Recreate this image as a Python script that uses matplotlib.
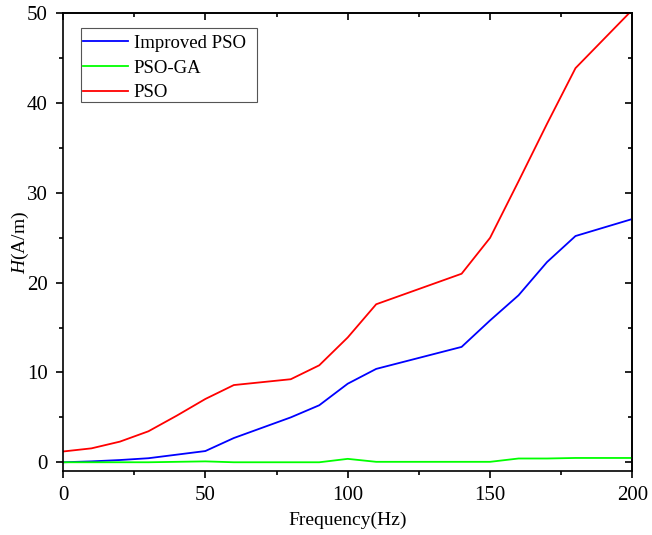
import matplotlib
matplotlib.use("Agg")
import matplotlib.pyplot as plt
from matplotlib.ticker import MultipleLocator
from matplotlib.patches import Rectangle

plt.rcParams['font.family'] = ['Liberation Serif', 'DejaVu Serif']
plt.rcParams['mathtext.fontset'] = 'custom'
plt.rcParams['mathtext.rm'] = 'Liberation Serif'
plt.rcParams['mathtext.it'] = 'Liberation Serif:italic'

freq_red = [0, 10, 20, 30, 40, 50, 60, 80, 90, 100, 110, 140, 150, 160, 170, 180, 200]
pso = [1.2, 1.55, 2.3, 3.45, 5.2, 7.05, 8.6, 9.25, 10.8, 13.9, 17.6, 21.0, 25.0, 31.3, 37.7, 43.9, 50.4]

freq_blue = [0, 10, 20, 30, 50, 60, 80, 90, 100, 110, 140, 150, 160, 170, 180, 200]
improved = [0.0, 0.1, 0.25, 0.45, 1.25, 2.7, 5.0, 6.35, 8.75, 10.4, 12.85, 15.8, 18.6, 22.3, 25.2, 27.1]

freq_green = [0, 10, 20, 30, 40, 50, 60, 70, 80, 90, 100, 110, 120, 130, 140, 150, 160, 170, 180, 190, 200]
psoga = [0.0, 0.0, 0.0, 0.0, 0.05, 0.1, 0.0, 0.0, 0.0, 0.0, 0.38, 0.05, 0.05, 0.05, 0.05, 0.05, 0.42, 0.42, 0.48, 0.48, 0.48]

fig = plt.figure(figsize=(6.52, 5.35), dpi=100)
ax = fig.add_axes([0.0966, 0.120, 0.8734, 0.855])

ax.plot(freq_blue, improved, color='#0000ff', lw=1.3, label='Improved PSO')
ax.plot(freq_green, psoga, color='#00ff00', lw=1.3, label='PSO-GA')
ax.plot(freq_red, pso, color='#ff0000', lw=1.3, label='PSO')

ax.set_xlim(0, 200)
ax.set_ylim(-0.95, 50)
ax.xaxis.set_major_locator(MultipleLocator(50))
ax.xaxis.set_minor_locator(MultipleLocator(25))
ax.yaxis.set_major_locator(MultipleLocator(10))
ax.yaxis.set_minor_locator(MultipleLocator(5))
ax.tick_params(which='both', direction='out', labelsize=15, width=1.2, pad=6)
ax.tick_params(which='major', length=5)
ax.tick_params(which='minor', length=3)
for s in ax.spines.values():
    s.set_linewidth(1.2)

# mirrored ticks on top and right pointing inward
top = ax.secondary_xaxis('top')
top.xaxis.set_major_locator(MultipleLocator(50))
top.xaxis.set_minor_locator(MultipleLocator(25))
top.tick_params(which='both', direction='in', labeltop=False, width=1.2)
top.tick_params(which='major', length=5)
top.tick_params(which='minor', length=3)
top.spines['top'].set_linewidth(1.2)
right = ax.secondary_yaxis('right')
right.yaxis.set_major_locator(MultipleLocator(10))
right.yaxis.set_minor_locator(MultipleLocator(5))
right.tick_params(which='both', direction='in', labelright=False, width=1.2)
right.tick_params(which='major', length=5)
right.tick_params(which='minor', length=3)
right.spines['right'].set_linewidth(1.2)

ax.set_xlabel('Frequency(Hz)', fontsize=14, labelpad=5)
ax.set_ylabel('$\\it{H}$(A/m)', fontsize=14)
ax.yaxis.set_label_coords(-0.056, 0.5)

# legend box drawn separately to match the reference padding
ax.add_patch(Rectangle((0.0316, 0.806), 0.309, 0.162, transform=ax.transAxes,
                       facecolor='white', edgecolor='#555555', linewidth=0.8,
                       zorder=4.5))
leg = ax.legend(loc='upper left', bbox_to_anchor=(0.0351, 0.953), fontsize=13.5,
                frameon=False, handlelength=2.4, handletextpad=0.3, borderpad=0,
                labelspacing=0.4, borderaxespad=0)
leg.set_zorder(5)

fig.savefig('out.png', dpi=100)
